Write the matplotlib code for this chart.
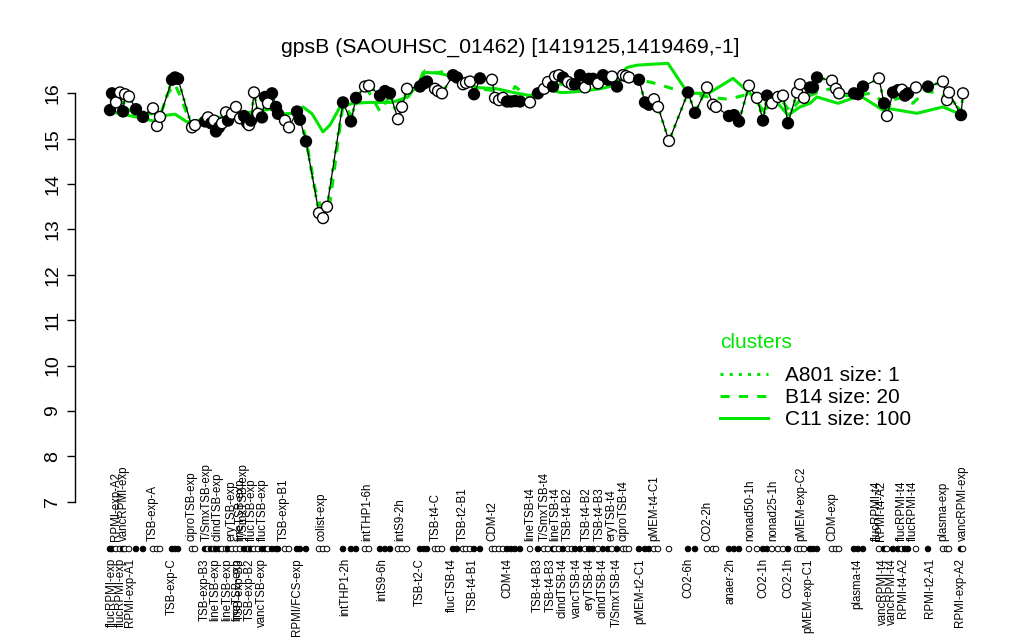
import matplotlib
matplotlib.use("Agg")
import matplotlib.pyplot as plt
from matplotlib.lines import Line2D
import matplotlib.transforms as mtransforms

plt.rcParams['font.family'] = ['Liberation Sans', 'DejaVu Sans']

# sample positions along the x axis, gpsB expression, filled marker flag
pos = [110, 112, 116, 120, 123, 125, 129, 136, 143,
       153, 157, 160,
       172, 175, 178,
       192, 195,
       205, 208, 211, 214, 216, 219, 222, 226, 228, 232, 236, 240, 244, 247, 249,
       251, 254, 258, 262, 265, 268, 272, 276, 278,
       285, 289,
       297, 300, 306,
       319, 323, 327,
       343, 351, 356,
       365, 369,
       380, 385, 390,
       398, 402, 407,
       420, 424, 427,
       435, 438, 442,
       453, 457, 463, 466, 470, 474, 480,
       492, 495, 499, 503, 507, 511, 515, 520,
       530,
       538, 544, 548, 553, 555, 559, 563, 568, 572, 575, 580, 585, 589, 593, 598,
       603, 608, 612, 617, 623, 626, 629,
       639, 645, 649, 654, 658,
       669,
       688, 695,
       707, 713, 716,
       729, 734, 739,
       749, 757,
       763, 767,
       772, 778, 783,
       788,
       797, 800, 804, 810, 813, 817,
       832, 836, 839,
       854, 858, 863,
       879, 884, 887, 893, 898, 902, 905, 908, 916,
       928,
       943, 947, 949,
       961, 963]

gpsB = [15.63, 16.00, 15.80, 16.02, 15.60, 15.98, 15.93, 15.65, 15.48,
        15.67, 15.28, 15.48,
        16.30, 16.35, 16.32,
        15.25, 15.30,
        15.38, 15.47, 15.34, 15.40, 15.16, 15.25, 15.34, 15.58, 15.40, 15.55, 15.70, 15.45, 15.50, 15.35, 15.30,
        15.40, 16.02, 15.55, 15.47, 15.92, 15.78, 16.00, 15.70, 15.55,
        15.40, 15.25,
        15.60, 15.42, 14.94,
        13.36, 13.25, 13.50,
        15.80, 15.38, 15.90,
        16.15, 16.17,
        15.95, 16.05, 16.00,
        15.43, 15.70, 16.10,
        16.15, 16.22, 16.26,
        16.10, 16.05, 16.00,
        16.40, 16.35, 16.20, 16.23, 16.26, 15.98, 16.33,
        16.30, 15.90, 15.85, 15.90, 15.82, 15.82, 15.83, 15.82,
        15.80,
        16.00, 16.10, 16.25, 16.15, 16.37, 16.40, 16.35, 16.25, 16.20, 16.20, 16.40, 16.13, 16.32, 16.32, 16.22,
        16.40, 16.30, 16.37, 16.15, 16.40, 16.38, 16.35,
        16.30, 15.80, 15.75, 15.87, 15.70,
        14.95,
        16.02, 15.57,
        16.13, 15.75, 15.70,
        15.50, 15.52, 15.38,
        16.17, 15.90,
        15.40, 15.95,
        15.78, 15.92, 15.95,
        15.34,
        16.02, 16.20, 15.90, 16.13, 16.13, 16.35,
        16.28, 16.10, 16.00,
        16.00, 15.98, 16.15,
        16.33, 15.78, 15.50, 16.02, 16.07, 16.08, 15.95, 16.00, 16.13,
        16.15,
        16.26, 15.85, 16.02,
        15.52, 16.00]

filled = [1, 1, 0, 0, 1, 0, 0, 1, 1,
          0, 0, 0,
          1, 1, 1,
          0, 0,
          1, 0, 1, 0, 1, 1, 0, 0, 1, 0, 0, 0, 1, 1, 0,
          1, 0, 0, 1, 1, 0, 1, 1, 1,
          0, 0,
          1, 1, 1,
          0, 0, 0,
          1, 1, 1,
          0, 0,
          1, 1, 1,
          0, 0, 0,
          1, 1, 1,
          0, 0, 0,
          1, 1, 0, 0, 0, 1, 1,
          0, 0, 0, 0, 1, 1, 1, 1,
          0,
          1, 0, 0, 1, 0, 0, 1, 0, 0, 1, 1, 0, 1, 1, 0,
          1, 1, 0, 1, 0, 0, 0,
          1, 1, 1, 0, 0,
          0,
          1, 1,
          0, 0, 0,
          1, 1, 1,
          0, 0,
          1, 1,
          0, 0, 0,
          1,
          0, 0, 0, 1, 1, 1,
          0, 0, 0,
          1, 1, 1,
          0, 1, 0, 1, 1, 0, 1, 1, 0,
          1,
          0, 0, 0,
          1, 0]

# cluster mean profiles
c11_pos = [110, 127, 143, 157, 167, 175, 187, 198, 210, 225, 240, 255, 270, 285, 297, 303,
           312, 323, 330, 340, 353, 370, 392, 408, 420, 423, 437, 447, 460, 475, 497, 513,
           530, 547, 560, 567, 583, 600, 610, 627, 637, 650, 668, 688, 703, 710, 733, 750,
           763, 777, 788, 800, 810, 817, 838, 860, 883, 890, 917, 943, 958]
c11 = [15.60, 15.52, 15.45, 15.37, 15.52, 15.54, 15.37, 15.40, 15.50, 15.45, 15.55, 15.60,
       15.65, 15.55, 15.56, 15.70, 15.55, 15.15, 15.30, 15.70, 15.78, 15.80, 15.80, 15.92,
       16.28, 16.46, 16.45, 16.40, 16.33, 16.13, 16.10, 16.02, 15.95, 16.10, 16.02, 16.02,
       16.05, 16.10, 16.15, 16.57, 16.62, 16.64, 16.66, 16.00, 16.00, 16.02, 16.33, 16.00,
       15.63, 15.80, 15.52, 15.70, 15.78, 15.92, 15.78, 15.95, 15.63, 15.66, 15.56, 15.70,
       15.56]

b14_pos = [110, 120, 130, 140, 150, 160, 168, 175, 182, 190, 200, 210, 220, 230, 240, 250,
           260, 270, 280, 290, 300, 306, 315, 322, 330, 343, 352, 358, 367, 380, 390, 400,
           408, 420, 425, 437, 447, 455, 465, 480, 497, 510, 515, 530, 540, 555, 570, 585,
           600, 615, 630, 640, 655, 670, 688, 700, 715, 728, 743, 750, 760, 770, 780, 790,
           800, 815, 830, 840, 855, 870, 885, 900, 913, 925, 940, 950, 962]
b14 = [15.65, 15.75, 15.62, 15.55, 15.55, 15.50, 16.00, 16.20, 15.85, 15.35, 15.35, 15.45,
       15.30, 15.50, 15.50, 15.45, 15.60, 15.80, 15.60, 15.40, 15.50, 15.00, 13.90, 13.40,
       13.60, 15.75, 15.50, 15.90, 16.10, 15.60, 15.95, 15.80, 16.00, 16.20, 16.50, 16.45,
       16.50, 16.38, 16.25, 16.10, 16.05, 15.90, 16.15, 15.90, 16.05, 16.20, 16.20, 16.05,
       16.20, 16.25, 16.35, 16.30, 16.22, 16.12, 15.98, 15.95, 15.90, 15.87, 15.95, 15.97,
       15.80, 15.75, 15.90, 15.60, 15.85, 16.00, 16.10, 15.95, 15.95, 16.00, 15.80, 15.90,
       15.78, 16.05, 16.00, 15.85, 15.60]

# sample names written above / below the marker strip
top_names = ["RPMI-exp-A2", "vancRPMI-exp", "TSB-exp-A", "ciproTSB-exp", "T/SmxTSB-exp",
             "clindTSB-exp", "eryTSB-exp", "lineTSB-exp", "T/SmxTSB-exp", "flucTSB-exp",
             "flucTSB-exp", "TSB-exp-B1", "colist-exp", "intTHP1-6h", "intS9-2h", "TSB-t4-C",
             "TSB-t2-B1", "CDM-t2", "lineTSB-t4", "T/SmxTSB-t4", "lineTSB-t4", "TSB-t4-B2",
             "TSB-t4-B2", "TSB-t4-B3", "eryTSB-t4", "ciproTSB-t4", "pMEM-t4-C1", "CO2-2h",
             "nonad50-1h", "nonad25-1h", "pMEM-exp-C2", "CDM-exp", "flucRPMI-t4",
             "RPMI-t4-A2", "flucRPMI-t4", "flucRPMI-t4", "plasma-exp", "vancRPMI-exp"]
top_pos = [116, 124, 153, 192, 207, 218, 232, 240, 244, 252, 263, 284, 321, 367, 400, 436,
           463, 492, 530, 545, 555, 568, 587, 600, 612, 623, 654, 707, 750, 773, 801, 832,
           877, 881, 902, 913, 943, 963]

bottom_names = ["flucRPMI-exp", "flucRPMI-exp", "RPMI-exp-A1", "TSB-exp-C", "TSB-exp-B3",
                "lineTSB-exp", "lineTSB-exp", "lineTSB-exp", "TSB-exp-B3", "TSB-exp-B2",
                "vancTSB-exp", "RPMI/FCS-exp", "intTHP1-2h", "intS9-6h", "TSB-t2-C",
                "flucTSB-t4", "TSB-t4-B1", "CDM-t4", "TSB-t4-B3", "TSB-t4-B3", "clindTSB-t4",
                "vancTSB-t4", "eryTSB-t4", "clindTSB-t4", "T/SmxTSB-t4", "pMEM-t2-C1",
                "CO2-6h", "anaer-2h", "CO2-1h", "CO2-1h", "pMEM-exp-C1", "plasma-t4",
                "vancRPMI-t4", "vancRPMI-t4", "RPMI-t4-A2", "RPMI-t2-A1", "RPMI-exp-A2"]
bottom_pos = [112, 121, 130, 172, 205, 215, 227, 237, 240, 250, 262, 297, 345, 382, 420,
              452, 473, 507, 538, 551, 563, 577, 590, 603, 617, 640, 688, 730, 763, 788,
              808, 857, 883, 892, 903, 930, 960]

GREEN = '#00e600'

fig = plt.figure(figsize=(10.24, 6.4), dpi=100)
ax = fig.add_axes([75 / 1024, 122 / 640, 910 / 1024, 441 / 640])

# cluster lines
ax.plot(c11_pos, c11, color=GREEN, lw=2.2, ls='-', zorder=2, clip_on=False)
ax.plot(b14_pos, b14, color=GREEN, lw=2.2, ls=(0, (3, 3)), zorder=2, clip_on=False)
ax.plot(pos, gpsB, color=GREEN, lw=2.2, ls=(0, (1, 2)), zorder=2, clip_on=False)
ax.plot(pos, gpsB, color='black', lw=0.9, zorder=3, clip_on=False)

face = ['black' if f else 'white' for f in filled]
ax.scatter(pos, gpsB, s=62, c=face, edgecolors='black', linewidths=1.0, zorder=4,
           clip_on=False)

# marker strip below the plot
trans = mtransforms.blended_transform_factory(ax.transData, ax.transAxes)
ax.scatter(pos, [-0.0703] * len(pos), s=16, c=face, edgecolors='black', linewidths=0.7,
           transform=trans, clip_on=False, zorder=4)
for name, x in zip(top_names, top_pos):
    ax.text(x, -0.052, name, transform=trans, rotation=90, ha='center', va='bottom',
            fontsize=8.3, clip_on=False)
for name, x in zip(bottom_names, bottom_pos):
    ax.text(x, -0.091, name, transform=trans, rotation=90, ha='center', va='top',
            fontsize=8.3, clip_on=False)

ax.set_xlim(75, 985)
ax.set_ylim(6.64, 16.36)
ax.set_yticks(range(7, 17))
ax.set_xticks([])
for s in ['top', 'right', 'bottom']:
    ax.spines[s].set_visible(False)
ax.spines['left'].set_bounds(7, 16)
ax.spines['left'].set_linewidth(1.0)
ax.tick_params(axis='y', length=6, width=1.0, labelsize=14, pad=4)
for lab in ax.get_yticklabels():
    lab.set_rotation(90)
    lab.set_va('center')

fig.text(510 / 1024, 1 - 47 / 640, "gpsB (SAOUHSC_01462) [1419125,1419469,-1]",
         ha='center', va='center', fontsize=15.3)

# legend: title placed on its own, entries below it
fig.text(756 / 1024, 1 - 343 / 640, "clusters", color=GREEN, fontsize=15,
         ha='center', va='center')
handles = [Line2D([], [], color=GREEN, lw=2.2, ls=(0, (1, 2))),
           Line2D([], [], color=GREEN, lw=2.2, ls=(0, (3, 3))),
           Line2D([], [], color=GREEN, lw=2.2, ls='-')]
leg = ax.legend(handles, ["A801 size: 1", "B14 size: 20", "C11 size: 100"],
                frameon=False, loc='upper left', bbox_to_anchor=(720 / 1024, 1 - 366 / 640),
                bbox_transform=fig.transFigure, fontsize=15,
                handlelength=2.3, handletextpad=0.8, labelspacing=0.15, borderpad=0,
                borderaxespad=0)

fig.savefig('out.png', dpi=100)
